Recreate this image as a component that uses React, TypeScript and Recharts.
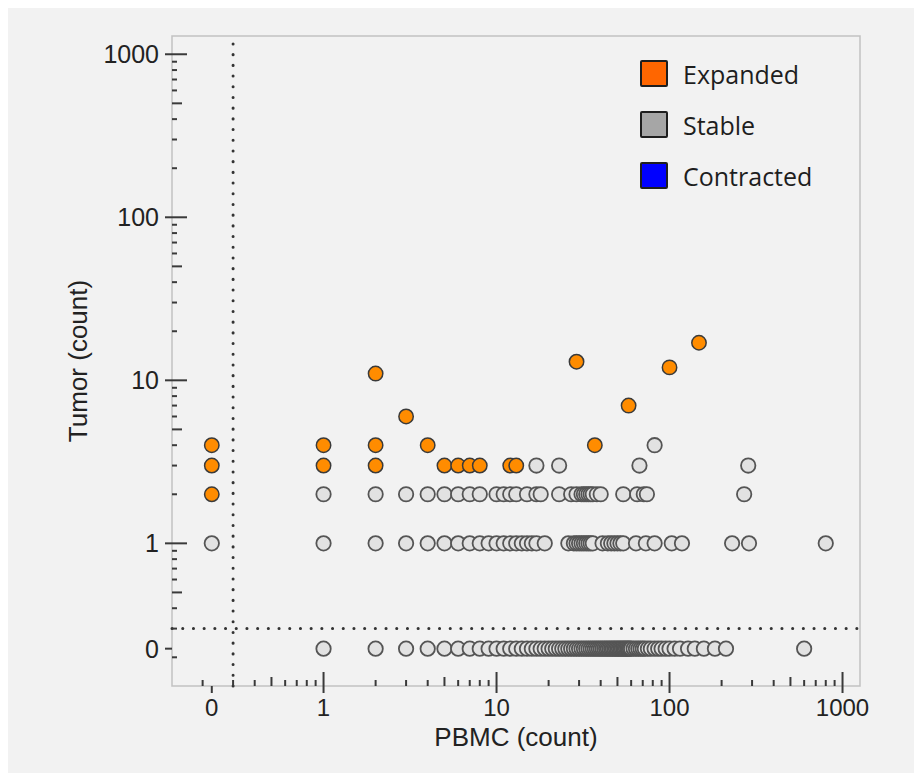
import { ScatterChart, Scatter, XAxis, YAxis, ReferenceLine, ReferenceArea } from "recharts";

// Clone counts: [PBMC, Tumor]
const expandedPoints: [number, number][] = [
  [0, 4], [0, 3], [0, 2], [1, 4], [1, 3], [2, 11], [2, 4], [2, 3], [3, 6], [4, 4],
  [5, 3], [6, 3], [7, 3], [8, 3], [12, 3], [13, 3], [29, 13], [37, 4], [58, 7],
  [100, 12], [148, 17],
];

// Stable clones, PBMC counts grouped by their tumor count
const stableTumor0 = [
  1, 2, 3, 4, 5, 6, 7, 8, 9, 10, 11, 12, 13, 14, 15, 16, 17, 18, 19, 20, 21, 22, 23, 24,
  25, 26, 27, 28, 29, 30, 31, 32, 33, 34, 35, 36, 37, 38, 39, 40, 41, 42, 43, 44, 45, 46,
  47, 48, 49, 50, 51, 52, 53, 54, 55, 56, 57, 58, 59, 60, 62, 64, 66, 68, 70, 72, 75, 78,
  82, 86, 90, 95, 100, 107, 115, 128, 140, 158, 183, 212, 600,
];
const stableTumor1 = [
  0, 1, 2, 3, 4, 5, 6, 7, 8, 9, 10, 11, 12, 13, 14, 15, 16, 17, 19, 26, 28, 29, 30, 31,
  32, 33, 34, 35, 36, 41, 44, 46, 48, 50, 52, 54, 64, 73, 82, 103, 118, 230, 288, 800,
];
const stableTumor2 = [
  1, 2, 3, 4, 5, 6, 7, 8, 10, 11, 12, 13, 15, 17, 18, 23, 27, 29, 31, 32, 33, 34, 35, 36,
  38, 40, 54, 65, 71, 74, 270,
];
const stableTumor3 = [17, 23, 67, 285];
const stableTumor4 = [82];

const majorLabels = ["1", "10", "100", "1000"];
const legendItems = [
  { name: "Expanded", color: "#ff6600" },
  { name: "Stable", color: "#a6a6a6" },
  { name: "Contracted", color: "#0000ff" },
];

// axes are log10 counts; a count of 0 gets its own slot left of / below 1
const ZERO_AT = -0.646;
const DOTTED_AT = Math.log10(0.3);
const X_DOMAIN: [number, number] = [-0.876, 3.101];
const Y_DOMAIN: [number, number] = [-0.875, 3.112];
const toDecade = (v: number) => (v === 0 ? ZERO_AT : Math.log10(v));

type TickKind = "zero" | "major" | "mid" | "minor";
const tickInfo = new Map<string, { kind: TickKind; label?: string }>();
const tickKey = (v: number) => v.toFixed(4);
const tickValues: number[] = [ZERO_AT];
tickInfo.set(tickKey(ZERO_AT), { kind: "zero", label: "0" });
majorLabels.forEach((label, d) => {
  tickValues.push(d);
  tickInfo.set(tickKey(d), { kind: "major", label });
});
[-1, 0, 1, 2].forEach((d) => {
  for (let m = 2; m <= 9; m++) {
    const v = d + Math.log10(m);
    tickValues.push(v);
    tickInfo.set(tickKey(v), { kind: m === 5 ? "mid" : "minor" });
  }
});

const expandedData = expandedPoints.map(([p, t]) => ({ x: toDecade(p), y: toDecade(t) }));
const stableData = [stableTumor0, stableTumor1, stableTumor2, stableTumor3, stableTumor4].flatMap(
  (row, tumor) => row.map((p) => ({ x: toDecade(p), y: toDecade(tumor) })),
);

const FONT = "'Liberation Sans', Arial, sans-serif";
const TICK_COLOR = "#3a3a3a";

const XTick = (props: any) => {
  const { x, y, payload } = props;
  const info = tickInfo.get(tickKey(payload.value));
  if (!info) return null;
  const len = { zero: 0, major: 14, mid: 9, minor: 6 }[info.kind];
  const out = info.kind === "zero" || info.kind === "major" ? 7 : 0;
  return (
    <g>
      <line x1={x} x2={x} y1={y - len} y2={y + out} stroke={TICK_COLOR} strokeWidth={2} />
      {info.label && (
        <text x={x} y={y + 30} textAnchor="middle" fontSize={24} fontFamily={FONT} fill="#222">
          {info.label}
        </text>
      )}
    </g>
  );
};

const YTick = (props: any) => {
  const { x, y, payload } = props;
  const info = tickInfo.get(tickKey(payload.value));
  if (!info) return null;
  const len = { zero: 0, major: 15, mid: 10, minor: 5 }[info.kind];
  const out = info.kind === "zero" || info.kind === "major" ? 7 : 0;
  return (
    <g>
      <line x1={x - out} x2={x + len} y1={y} y2={y} stroke={TICK_COLOR} strokeWidth={2} />
      {info.label && (
        <text x={x - 13} y={y} dy="0.36em" textAnchor="end" fontSize={25} fontFamily={FONT} fill="#222">
          {info.label}
        </text>
      )}
    </g>
  );
};

const StableDot = (p: any) => (
  <circle cx={p.cx} cy={p.cy} r={7.2} fill="#e2e2e2" stroke="#555" strokeWidth={1.8} />
);
const ExpandedDot = (p: any) => (
  <circle cx={p.cx} cy={p.cy} r={7.2} fill="#ff8c00" stroke="#3a3a3a" strokeWidth={1.5} />
);

export default function App() {
  return (
    <div style={{ position: "relative", width: 907, height: 767, marginTop: -2, background: "#f2f2f2" }}>
      <ScatterChart width={907} height={767} margin={{ top: 30, right: 55, bottom: 27, left: 64 }}>
        <ReferenceArea
          x1={X_DOMAIN[0]}
          x2={X_DOMAIN[1]}
          y1={Y_DOMAIN[0]}
          y2={Y_DOMAIN[1]}
          fill="none"
          stroke="#c2c2c2"
          strokeWidth={1.5}
        />
        <XAxis
          type="number"
          dataKey="x"
          domain={X_DOMAIN}
          allowDataOverflow
          ticks={tickValues}
          interval={0}
          tickSize={0}
          tickMargin={0}
          tickLine={false}
          axisLine={false}
          tick={(p: any) => <XTick {...p} />}
          height={60}
          label={{
            value: "PBMC (count)",
            position: "insideBottom",
            offset: 0,
            style: { fontSize: 26, fontFamily: FONT, fill: "#222" },
          }}
        />
        <YAxis
          type="number"
          dataKey="y"
          domain={Y_DOMAIN}
          allowDataOverflow
          ticks={tickValues}
          interval={0}
          tickSize={0}
          tickMargin={0}
          tickLine={false}
          axisLine={false}
          tick={(p: any) => <YTick {...p} />}
          width={100}
          label={{
            value: "Tumor (count)",
            angle: -90,
            position: "insideLeft",
            offset: 6,
            style: { fontSize: 26, fontFamily: FONT, fill: "#222", textAnchor: "middle" },
          }}
        />
        <ReferenceLine x={DOTTED_AT} stroke="#333" strokeWidth={3} strokeDasharray="0.1 10.6" strokeLinecap="round" />
        <ReferenceLine y={DOTTED_AT} stroke="#333" strokeWidth={3} strokeDasharray="0.1 10.6" strokeLinecap="round" />
        <Scatter name="Stable" data={stableData} shape={StableDot} isAnimationActive={false} />
        <Scatter name="Expanded" data={expandedData} shape={ExpandedDot} isAnimationActive={false} />
      </ScatterChart>
      <div style={{ position: "absolute", left: 632, top: 42, fontFamily: "'Open Sans', sans-serif" }}>
        {legendItems.map((item) => (
          <div key={item.name} style={{ display: "flex", alignItems: "center", height: 51 }}>
            <div
              style={{
                width: 24,
                height: 23,
                background: item.color,
                border: "2px solid #1e1e1e",
                borderRadius: 2,
              }}
            />
            <span style={{ marginLeft: 15, fontSize: 25, color: "#1e1e1e" }}>{item.name}</span>
          </div>
        ))}
      </div>
    </div>
  );
}
